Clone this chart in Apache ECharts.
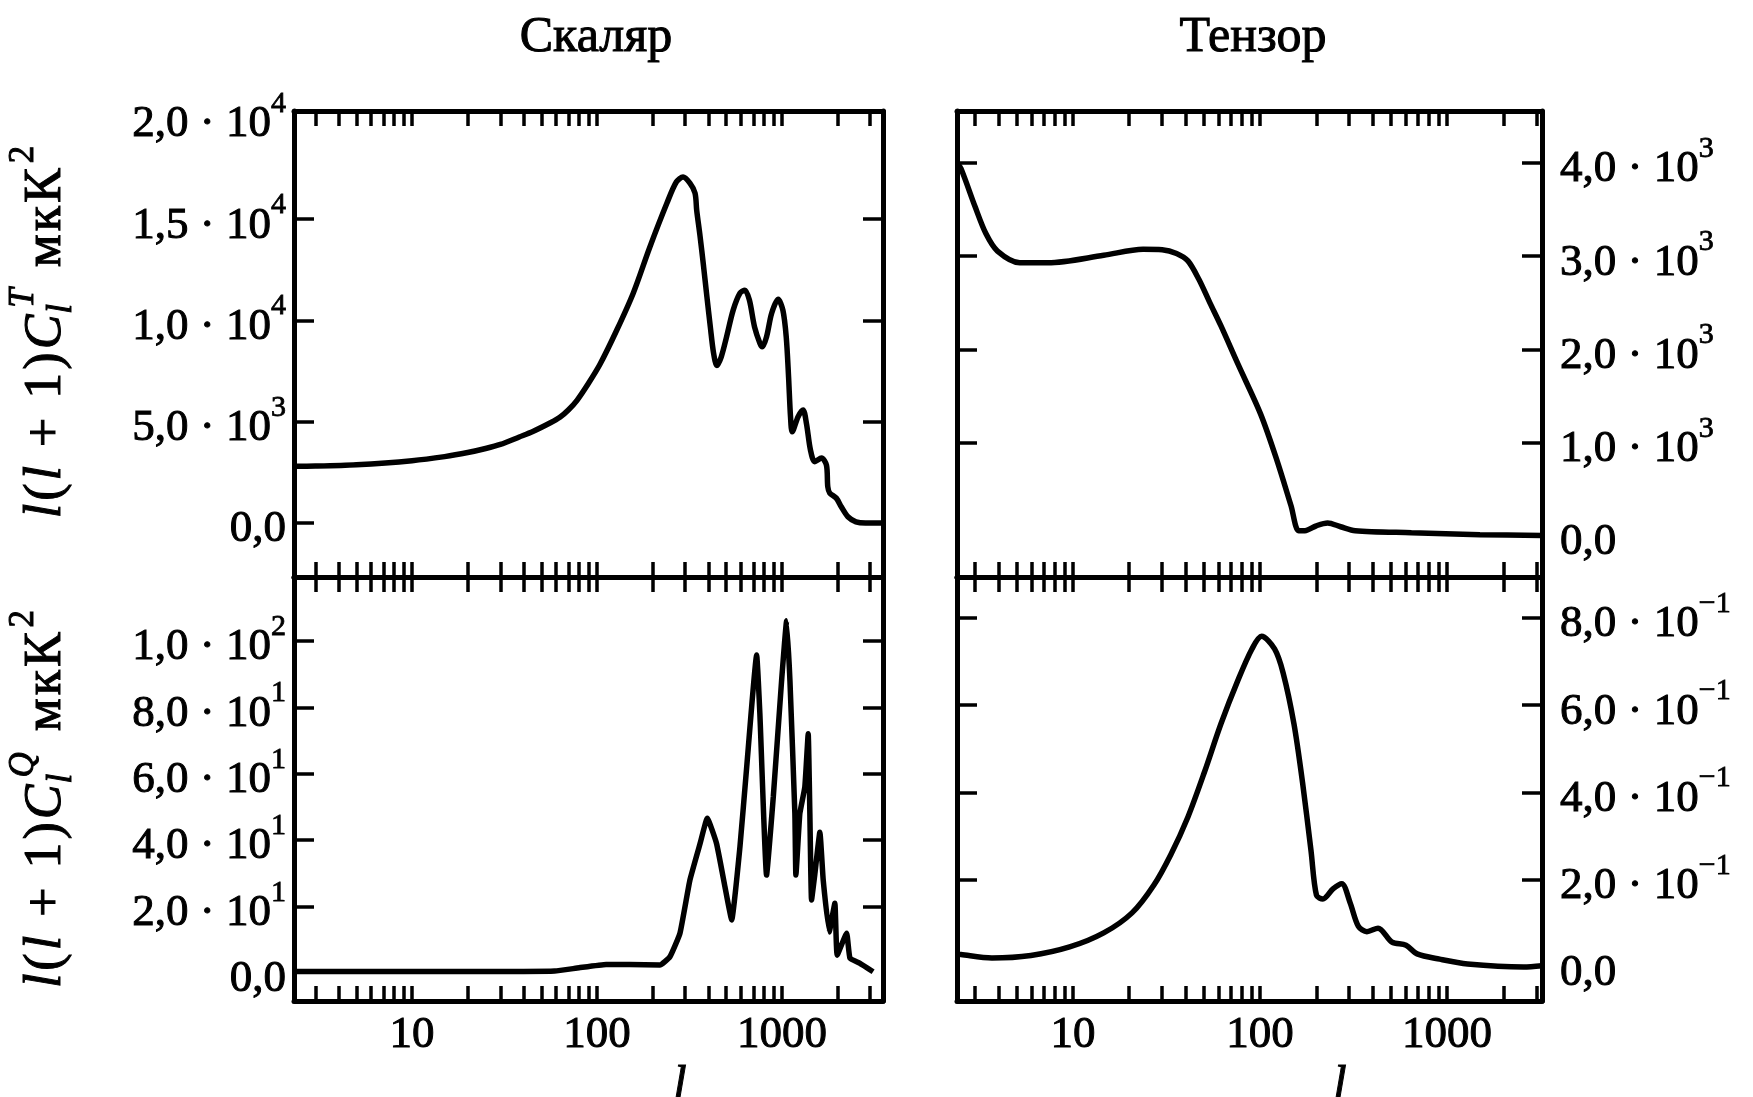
<!DOCTYPE html>
<html><head><meta charset="utf-8">
<script src="https://cdn.jsdelivr.net/npm/echarts@6/dist/echarts.min.js"></script>
<style>html,body{margin:0;padding:0;background:#fff}#c{width:1753px;height:1097px}</style>
</head><body><div id="c"></div><script>
const FONT = '"Liberation Serif", "DejaVu Serif", serif';

// ---- data: scalar temperature (top-left)
const lScalarT = [2.3, 3, 5, 10, 15, 20, 25, 30, 38, 45, 56, 63, 70, 78, 90, 104, 128, 157, 193, 239, 269, 292, 318, 339, 346, 361, 377, 393, 410, 427, 445, 470, 502, 545, 593, 631, 667, 711, 760, 783, 826, 880, 954, 1012, 1055, 1086, 1113, 1137, 1223, 1301, 1357, 1427, 1506, 1637, 1741, 1770, 1814, 1968, 2094, 2274, 2513, 2832, 3520];
const vScalarT = [2800, 2810, 2880, 3080, 3280, 3480, 3680, 3880, 4250, 4520, 4950, 5220, 5580, 6060, 6900, 7850, 9530, 11350, 13620, 15800, 16850, 17080, 16780, 16290, 15450, 14150, 12670, 11170, 9690, 8390, 7780, 8210, 9190, 10510, 11350, 11500, 11010, 9690, 8880, 8700, 9200, 10360, 11050, 10510, 9200, 7230, 5250, 4510, 5250, 5580, 4920, 3600, 3030, 3210, 2860, 1790, 1480, 1230, 800, 310, 60, 0, 0];

// ---- data: tensor temperature (top-right)
const lTensorT = [2.4, 2.52, 3.0, 3.43, 3.95, 5.2, 7.35, 14.6, 23.7, 30, 35.8, 41.2, 47.2, 54, 61.8, 76.2, 100.7, 123, 146.6, 161, 174, 200, 230, 270, 323, 645, 1500, 3220];
const vTensorT = [4000, 3940, 3530, 3240, 3055, 2930, 2930, 3010, 3075, 3070, 3030, 2950, 2750, 2500, 2255, 1845, 1310, 817, 325, 58, 58, 110, 140, 100, 58, 36, 15, 5];

// ---- data: scalar polarization (bottom-left)
const lScalarQ = [2.3, 10, 40, 59, 80, 112, 150, 219, 248, 281, 318, 361, 395, 443, 492, 535, 593, 645, 730, 760, 826, 898, 996, 1060, 1105, 1175, 1190, 1250, 1330, 1387, 1416, 1446, 1508, 1604, 1672, 1802, 1933, 1990, 2238, 2333, 2630, 3112];
const vScalarQ = [0.5, 0.5, 0.5, 0.6, 1.6, 2.6, 2.6, 2.4, 4.9, 12, 28, 39, 46.6, 39, 26, 16, 38, 62, 95.7, 78, 29.5, 53, 88, 106, 88, 48, 29.5, 48, 56, 72, 48, 22, 30, 42.4, 28, 12.4, 21, 5.4, 12, 4.5, 3, 0.4];

// ---- data: tensor polarization (bottom-right)
const lTensorQ = [2.4, 2.52, 3.69, 5.96, 9.6, 14.6, 20.7, 27.1, 33.4, 41.2, 50.5, 61.8, 76.2, 90.6, 102, 119.7, 133, 152, 169, 187.5, 200.6, 217, 245.7, 273.6, 303, 336, 373, 428, 508, 604, 692, 913, 1288, 2565, 3220];
const vTensorQ = [0.03, 0.0286, 0.0206, 0.0263, 0.0458, 0.078, 0.124, 0.188, 0.258, 0.344, 0.447, 0.557, 0.657, 0.729, 0.758, 0.729, 0.674, 0.557, 0.422, 0.266, 0.164, 0.156, 0.179, 0.191, 0.148, 0.093, 0.081, 0.089, 0.057, 0.050, 0.030, 0.018, 0.007, 0.0, 0.003];

// ---- ticks and labels
const xTickValues = [3,4,5,6,7,8,9,10,20,30,40,50,60,70,80,90,100,200,300,400,500,600,700,800,900,1000,2000,3000];
const xLabelValues = [10, 100, 1000];

const yTicksTL = [0, 5000, 10000, 15000];
const yLabValTL = [0, 5000, 10000, 15000, 20000];
const yMantTL = ['0,0', '5,0', '1,0', '1,5', '2,0'];
const yExpTL  = ['', '3', '4', '4', '4'];

const yTicksTR = [1000, 2000, 3000, 4000];
const yLabValTR = [0, 1000, 2000, 3000, 4000];
const yMantTR = ['0,0', '1,0', '2,0', '3,0', '4,0'];
const yExpTR  = ['', '3', '3', '3', '3'];

const yTicksBL = [20, 40, 60, 80, 100];
const yLabValBL = [0, 20, 40, 60, 80, 100];
const yMantBL = ['0,0', '2,0', '4,0', '6,0', '8,0', '1,0'];
const yExpBL  = ['', '1', '1', '1', '1', '2'];

const yTicksBR = [0.2, 0.4, 0.6, 0.8];
const yLabValBR = [0, 0.2, 0.4, 0.6, 0.8];
const yMantBR = ['0,0', '2,0', '4,0', '6,0', '8,0'];
const yExpBR  = ['', '\u22121', '\u22121', '\u22121', '\u22121'];

const titles = ['Скаляр', 'Тензор'];

// ---- layout
const G = [
  {left: 294, top: 111, width: 589, height: 466},
  {left: 957, top: 111, width: 585, height: 466},
  {left: 294, top: 577, width: 589, height: 424},
  {left: 957, top: 577, width: 585, height: 424}
];
const XR = [[2.3, 3520], [2.4, 3220], [2.3, 3520], [2.4, 3220]];
const YR = [[-2665, 20345], [-439, 4557], [-8.4, 119.2], [-0.078, 0.894]];

const LINE = {color: '#000', width: 5};
const TICK = {color: '#000', width: 3.5};
const SW = 1.0; // text stroke to mimic heavy print

function labelFn(vals, mant, exp) {
  return function (v) {
    for (let i = 0; i < vals.length; i++) {
      if (Math.abs(vals[i] - v) < 1e-9 * Math.max(1, Math.abs(v))) {
        return exp[i] ? '{m|' + mant[i] + ' \u00b7 10}{e|' + exp[i] + '}' : '{m|' + mant[i] + '}';
      }
    }
    return '';
  };
}
const RICH = {
  m: {fontFamily: FONT, fontSize: 45, lineHeight: 58, verticalAlign: 'bottom', color: '#000', textBorderColor: '#000', textBorderWidth: SW},
  e: {fontFamily: FONT, fontSize: 30, lineHeight: 30, verticalAlign: 'top', color: '#000', textBorderColor: '#000', textBorderWidth: SW * 0.8}
};

function xAxis(g, pos, showLabel) {
  return {
    type: 'log', logBase: 10, gridIndex: g, position: pos, min: XR[g][0], max: XR[g][1],
    axisLine: {show: true, onZero: false, lineStyle: LINE},
    axisTick: {show: true, inside: true, length: 15, lineStyle: TICK, customValues: xTickValues},
    axisLabel: {show: showLabel, customValues: xLabelValues, margin: 12, color: '#000',
      fontFamily: FONT, fontSize: 45, textBorderColor: '#000', textBorderWidth: SW,
      formatter: v => String(Math.round(v))},
    splitLine: {show: false}, minorTick: {show: false}, minorSplitLine: {show: false}
  };
}
function yAxis(g, pos, ticks, lvals, mant, exp, showLabel, margin) {
  return {
    type: 'value', gridIndex: g, position: pos, min: YR[g][0], max: YR[g][1],
    axisLine: {show: true, onZero: false, lineStyle: LINE},
    axisTick: {show: true, inside: true, length: 20, lineStyle: TICK, customValues: ticks},
    axisLabel: {show: showLabel, customValues: lvals, margin: margin, formatter: labelFn(lvals, mant, exp), rich: RICH},
    splitLine: {show: false}
  };
}

const xAxes = [], yAxes = [];
for (let g = 0; g < 4; g++) {
  xAxes.push(xAxis(g, 'bottom', g >= 2));
  xAxes.push(xAxis(g, 'top', false));
}
const YT = [[yTicksTL, yLabValTL, yMantTL, yExpTL], [yTicksTR, yLabValTR, yMantTR, yExpTR],
            [yTicksBL, yLabValBL, yMantBL, yExpBL], [yTicksBR, yLabValBR, yMantBR, yExpBR]];
for (let g = 0; g < 4; g++) {
  const left = (g % 2 === 0);
  const t = YT[g];
  yAxes.push(yAxis(g, 'left', t[0], t[1], t[2], t[3], left, 8));
  yAxes.push(yAxis(g, 'right', t[0], t[1], t[2], t[3], !left, 18));
}

function series(g, ls, vs, smooth) {
  return {
    type: 'line', xAxisIndex: g * 2, yAxisIndex: g * 2, data: ls.map((l, i) => [l, vs[i]]),
    showSymbol: false, symbol: 'none', smooth: smooth, lineStyle: {color: '#000', width: 5.5},
    clip: true, silent: true
  };
}

// ---- rotated axis names
const ctx = document.createElement('canvas').getContext('2d');
function fontStr(size, it) { return (it ? 'italic ' : '') + size + 'px ' + FONT; }
function meas(t, size, it) { ctx.font = fontStr(size, it); return ctx.measureText(t).width; }
function vName(cx, cy, runs) {
  const MAIN = 52, SMALL = 35, LS = 3;
  const items = [];
  let u = 0;
  runs.forEach(r => {
    if (r.stack) {
      const [sp, sb] = r.stack;
      const w1 = meas(sp.t, SMALL, sp.it), w2 = meas(sb.t, SMALL, sb.it);
      items.push({t: sp.t, size: SMALL, it: sp.it, u: u + 4, v: -22});
      items.push({t: sb.t, size: SMALL, it: sb.it, u: u - 2, v: 16});
      u += Math.max(w1 + 4, w2) + LS + 2;
    } else if (r.sup) {
      items.push({t: r.sup, size: SMALL, it: false, u: u + 2, v: -22});
      u += meas(r.sup, SMALL, false) + 2;
    } else {
      for (const ch of r.t) {
        items.push({t: ch, size: MAIN, it: r.it, u: u, v: 0});
        u += meas(ch, MAIN, r.it) + LS;
      }
    }
  });
  const W = u;
  return {
    type: 'group', x: cx, y: cy, rotation: Math.PI / 2, silent: true,
    children: items.map(it => ({
      type: 'text', x: it.u - W / 2, y: it.v,
      style: {text: it.t, font: fontStr(it.size, it.it), fill: '#000', stroke: '#000', lineWidth: SW,
        align: 'left', verticalAlign: 'middle'}
    }))
  };
}
const nameT = [{t: 'l', it: 1}, {t: '(', it: 0}, {t: 'l', it: 1}, {t: ' + 1)', it: 0}, {t: 'C', it: 1},
  {stack: [{t: 'T', it: 1}, {t: 'l', it: 1}]}, {t: ' мкК', it: 0}, {sup: '2'}];
const nameQ = [{t: 'l', it: 1}, {t: '(', it: 0}, {t: 'l', it: 1}, {t: ' + 1)', it: 0}, {t: 'C', it: 1},
  {stack: [{t: 'Q', it: 1}, {t: 'l', it: 1}]}, {t: ' мкК', it: 0}, {sup: '2'}];

function txt(x, y, s, font, va) {
  return {type: 'text', x: x, y: y, silent: true,
    style: {text: s, font: font, fill: '#000', stroke: '#000', lineWidth: SW, align: 'center', verticalAlign: va}};
}
const graphic = [
  txt(596, 38, titles[0], '50px ' + FONT, 'middle'),
  txt(1253, 38, titles[1], '50px ' + FONT, 'middle'),
  txt(680, 1062, 'l', 'italic 48px ' + FONT, 'top'),
  txt(1340, 1062, 'l', 'italic 48px ' + FONT, 'top'),
  vName(46, 332, nameT),
  vName(46, 799, nameQ)
];

const chart = echarts.init(document.getElementById('c'), null, {renderer: 'canvas'});
chart.setOption({
  animation: false,
  backgroundColor: '#fff',
  grid: G.map(g => Object.assign({containLabel: false}, g)),
  xAxis: xAxes,
  yAxis: yAxes,
  series: [
    series(0, lScalarT, vScalarT, 0.3),
    series(1, lTensorT, vTensorT, 0.3),
    series(2, lScalarQ, vScalarQ, 0.12),
    series(3, lTensorQ, vTensorQ, 0.3)
  ],
  graphic: graphic
});
</script></body></html>
